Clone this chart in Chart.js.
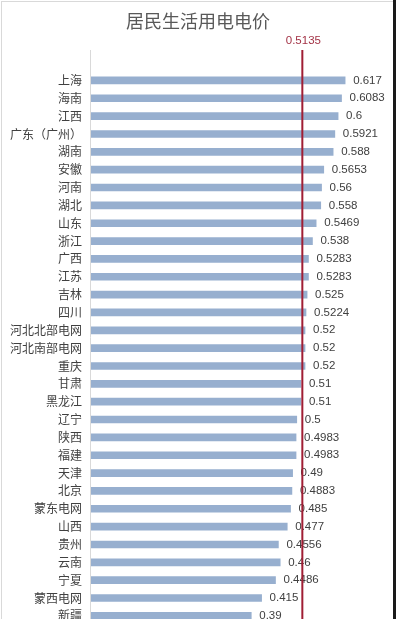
<!DOCTYPE html>
<html>
<head>
<meta charset="utf-8">
<script src="https://cdn.jsdelivr.net/npm/chart.js@4.4.1/dist/chart.umd.min.js"></script>
<style>
  html, body { margin: 0; padding: 0; background: #fff; overflow: hidden; }
  #wrap { position: relative; width: 396px; height: 619px; overflow: hidden; }
  #frame { position: absolute; left: 1px; top: 1px; width: 391px; height: 640px;
           border: 1px solid #d9d9d9; border-bottom: none; pointer-events: none; }
  #edge { position: absolute; right: 0; top: 0; width: 3px; height: 619px; background: #1a1a1a; }
  canvas { position: absolute; left: 0; top: 0; }
</style>
</head>
<body>
<div id="wrap">
  <canvas id="priceChart" width="396" height="640"></canvas>
  <div id="frame"></div>
  <div id="edge"></div>
</div>
<script>
// 居民生活用电电价（元/千瓦时）
const regions = ['上海', '海南', '江西', '广东（广州）', '湖南', '安徽', '河南', '湖北', '山东', '浙江',
    '广西', '江苏', '吉林', '四川', '河北北部电网', '河北南部电网', '重庆', '甘肃', '黑龙江', '辽宁',
    '陕西', '福建', '天津', '北京', '蒙东电网', '山西', '贵州', '云南', '宁夏', '蒙西电网', '新疆'];
const prices = [0.617, 0.6083, 0.6, 0.5921, 0.588, 0.5653, 0.56, 0.558, 0.5469, 0.538,
    0.5283, 0.5283, 0.525, 0.5224, 0.52, 0.52, 0.52, 0.51, 0.51, 0.5,
    0.4983, 0.4983, 0.49, 0.4883, 0.485, 0.477, 0.4556, 0.46, 0.4486, 0.415, 0.39];
const avgPrice = 0.5135;

const numFont = "11.5px 'Liberation Sans', Arial, sans-serif";

// 数值标签 + 平均线 + 纵轴线
const overlayPlugin = {
    id: 'overlay',
    afterDatasetsDraw(chart) {
        const { ctx, chartArea, scales } = chart;
        const top = 50;
        ctx.save();

        // 纵轴线
        ctx.strokeStyle = '#d9d9d9';
        ctx.lineWidth = 1;
        ctx.beginPath();
        ctx.moveTo(Math.round(chartArea.left) + 0.5, top);
        ctx.lineTo(Math.round(chartArea.left) + 0.5, chartArea.bottom);
        ctx.stroke();

        // 数值
        ctx.font = numFont;
        ctx.fillStyle = '#404040';
        ctx.textAlign = 'left';
        ctx.textBaseline = 'middle';
        chart.getDatasetMeta(0).data.forEach((bar, i) => {
            ctx.fillText(String(prices[i]), bar.x + 8, bar.y);
        });

        // 平均线
        const ax = scales.x.getPixelForValue(avgPrice);
        ctx.strokeStyle = '#a01e34';
        ctx.lineWidth = 2;
        ctx.beginPath();
        ctx.moveTo(ax, top);
        ctx.lineTo(ax, chartArea.bottom);
        ctx.stroke();

        ctx.fillStyle = '#a33346';
        ctx.textAlign = 'center';
        ctx.fillText(String(avgPrice), ax + 1, top - 9);
        ctx.restore();
    }
};

new Chart(document.getElementById('priceChart'), {
    type: 'bar',
    data: {
        labels: regions,
        datasets: [{
            label: '居民生活用电电价',
            data: prices,
            backgroundColor: '#97afcf',
            barThickness: 7,
            borderWidth: 0
        }]
    },
    options: {
        indexAxis: 'y',
        responsive: false,
        animation: false,
        devicePixelRatio: 1,
        layout: { padding: 0 },
        plugins: {
            legend: { display: false },
            tooltip: { enabled: false },
            title: {
                display: true,
                text: '居民生活用电电价',
                color: '#595959',
                font: { family: "'Noto Sans CJK SC', sans-serif", size: 18, weight: 'normal' },
                padding: { top: 10, bottom: 39.9 }
            }
        },
        scales: {
            x: {
                display: false,
                min: 0,
                max: 0.74
            },
            y: {
                afterFit(scale) { scale.width = 90; },
                grid: { display: false, drawTicks: false },
                border: { display: false },
                ticks: {
                    padding: 8,
                    color: '#404040',
                    autoSkip: false,
                    font: { family: "'Noto Sans CJK SC', sans-serif", size: 12 }
                }
            }
        }
    },
    plugins: [overlayPlugin]
});
</script>
</body>
</html>
